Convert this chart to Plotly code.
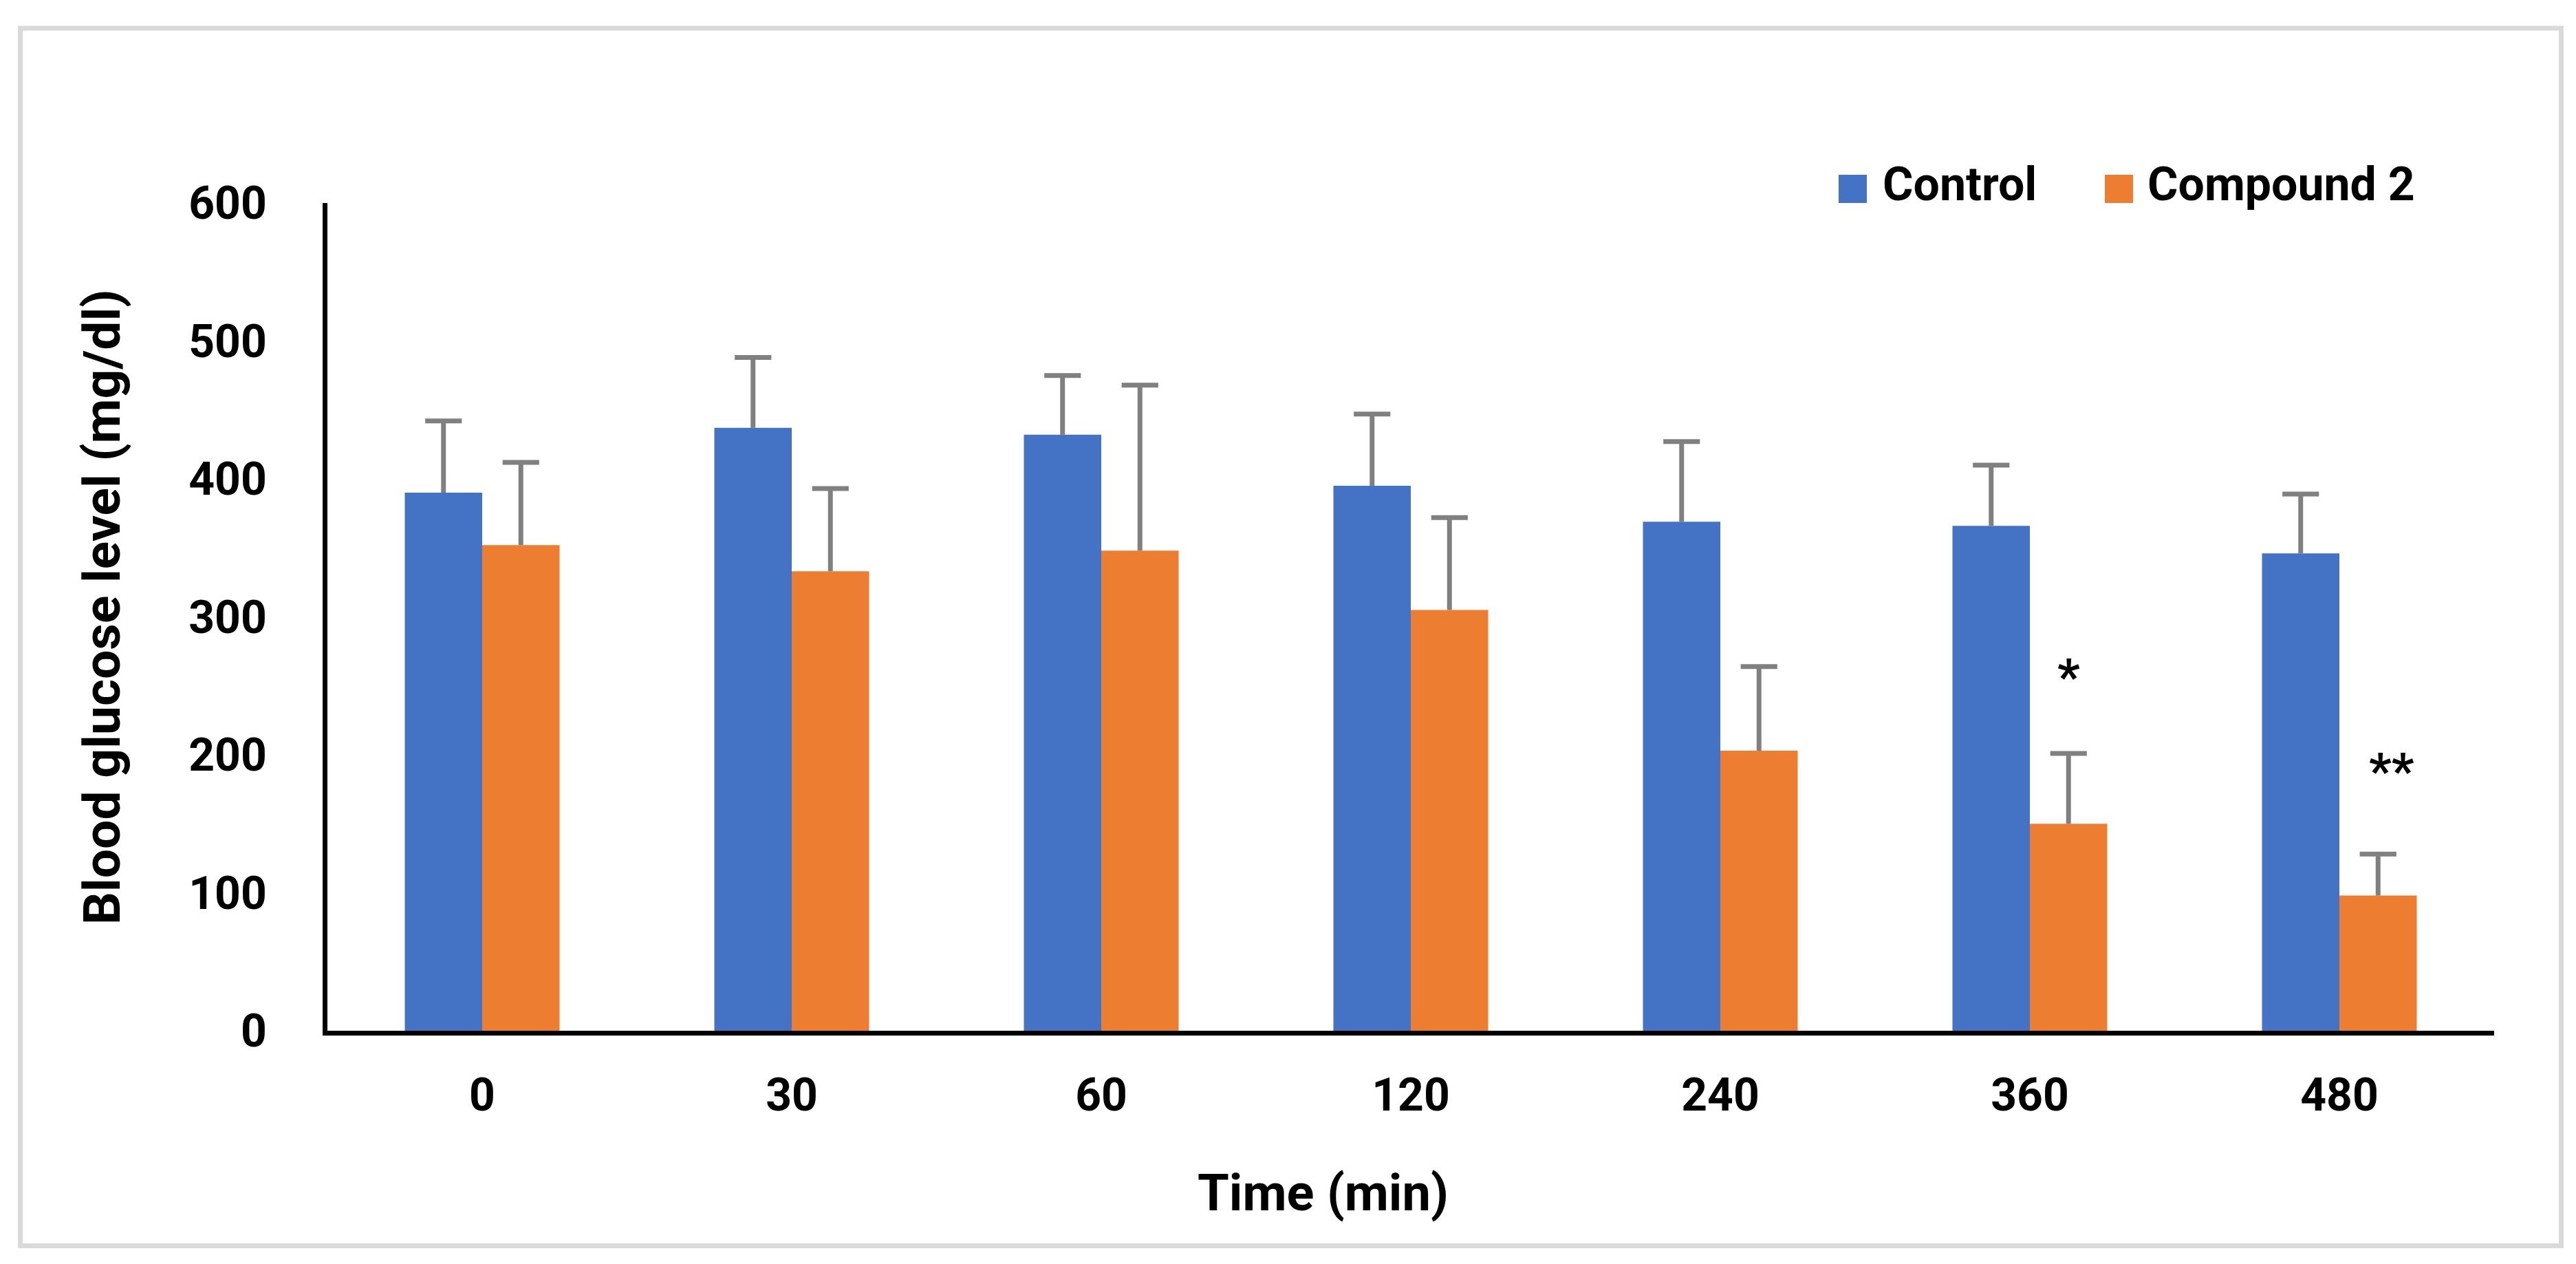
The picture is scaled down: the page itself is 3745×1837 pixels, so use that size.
import plotly.graph_objects as go

# ---- data ----
categories = ["0", "30", "60", "120", "240", "360", "480"]
control = [390, 437, 432, 395, 369, 366, 346]
control_err = [52, 51, 43, 52, 58, 44, 43]
compound = [352, 333, 348, 305, 203, 150, 98]
compound_err = [60, 60, 120, 67, 61, 51, 30]
series_names = ["Control", "Compound 2"]
sig_labels = {"360": ("*", 257), "480": ("**", 189)}

BLUE = "#4472C4"
ORANGE = "#ED7D31"
GRAY = "#808080"
FONT = "Roboto"

W, H = 3745, 1837
L, R, T, B = 468, 127, 287, 347
PW, PH = W - L - R, H - T - B


def px_x(p):
    return (p - L) / PW


def px_y(p):
    return (H - B - p) / PH


fig = go.Figure()

for name, vals, errs, col in [
    (series_names[0], control, control_err, BLUE),
    (series_names[1], compound, compound_err, ORANGE),
]:
    fig.add_trace(go.Bar(
        name=name, x=categories, y=vals, marker=dict(color=col, line=dict(width=0)),
        error_y=dict(type="data", array=errs, arrayminus=[0] * len(errs), symmetric=False,
                     width=0, thickness=7, color=GRAY),
        showlegend=False,
    ))

# caps of error bars (grouped scatter markers)
for vals, errs in [(control, control_err), (compound, compound_err)]:
    fig.add_trace(go.Scatter(
        x=categories, y=[v + e for v, e in zip(vals, errs)], mode="markers",
        marker=dict(symbol="line-ew", size=38, color=GRAY, line=dict(width=7, color=GRAY)),
        showlegend=False, hoverinfo="skip",
    ))

annotations = []
for cat, (txt, yv) in sig_labels.items():
    annotations.append(dict(
        x=categories.index(cat), y=yv, xref="x", yref="y", text=txt, showarrow=False,
        xshift=56 + (20 if len(txt) > 1 else 0), yshift=-2,
        font=dict(family=FONT, size=72, color="black", weight="bold"),
        xanchor="center", yanchor="middle",
    ))

# axis titles
annotations.append(dict(
    x=px_x(1915), y=px_y(1725), xref="paper", yref="paper", text="Time (min)",
    showarrow=False, xanchor="center", yanchor="middle",
    font=dict(family=FONT, size=74, color="black", weight="bold"),
))
annotations.append(dict(
    x=px_x(140), y=px_y(874), xref="paper", yref="paper", text="Blood glucose level (mg/dl)",
    showarrow=False, xanchor="center", yanchor="middle", textangle=-90,
    font=dict(family=FONT, size=75, color="black", weight="bold"),
))

# legend (manual, large swatches)
shapes = []
legend_items = [(series_names[0], BLUE, 2665, 2727), (series_names[1], ORANGE, 3052, 3112)]
for name, col, sx, tx in legend_items:
    shapes.append(dict(type="rect", xref="paper", yref="paper",
                       x0=px_x(sx), x1=px_x(sx + 41), y0=px_y(287), y1=px_y(246),
                       fillcolor=col, line=dict(width=0)))
    annotations.append(dict(
        x=px_x(tx), y=px_y(260), xref="paper", yref="paper", text=name,
        showarrow=False, xanchor="left", yanchor="middle",
        font=dict(family=FONT, size=68, color="black", weight="bold"),
    ))

# outer light-gray frame
shapes.append(dict(type="rect", xref="paper", yref="paper",
                   x0=px_x(21.5), x1=px_x(3715.5), y0=px_y(1802.5), y1=px_y(33),
                   line=dict(color="#D9D9D9", width=7), fillcolor="rgba(0,0,0,0)", layer="below"))

fig.update_layout(
    width=W, height=H,
    margin=dict(l=L, r=R, t=T, b=B, autoexpand=False),
    paper_bgcolor="white", plot_bgcolor="white",
    barmode="group", bargap=0.5, bargroupgap=0,
    scattermode="group",
    showlegend=False,
    annotations=annotations, shapes=shapes,
    font=dict(family=FONT, color="black"),
)
fig.update_xaxes(
    type="category", range=[-0.5, len(categories) - 0.5],
    showline=True, linecolor="black", linewidth=7,
    ticks="", showgrid=False, zeroline=False, ticklabelstandoff=30,
    tickfont=dict(family=FONT, size=66, color="black", weight="bold"),
)
fig.update_yaxes(
    range=[0, 600], dtick=100, showline=True, linecolor="black", linewidth=7,
    ticks="", showgrid=False, zeroline=False, ticklabelstandoff=68,
    tickfont=dict(family=FONT, size=66, color="black", weight="bold"),
)

fig.write_html("out.html")
